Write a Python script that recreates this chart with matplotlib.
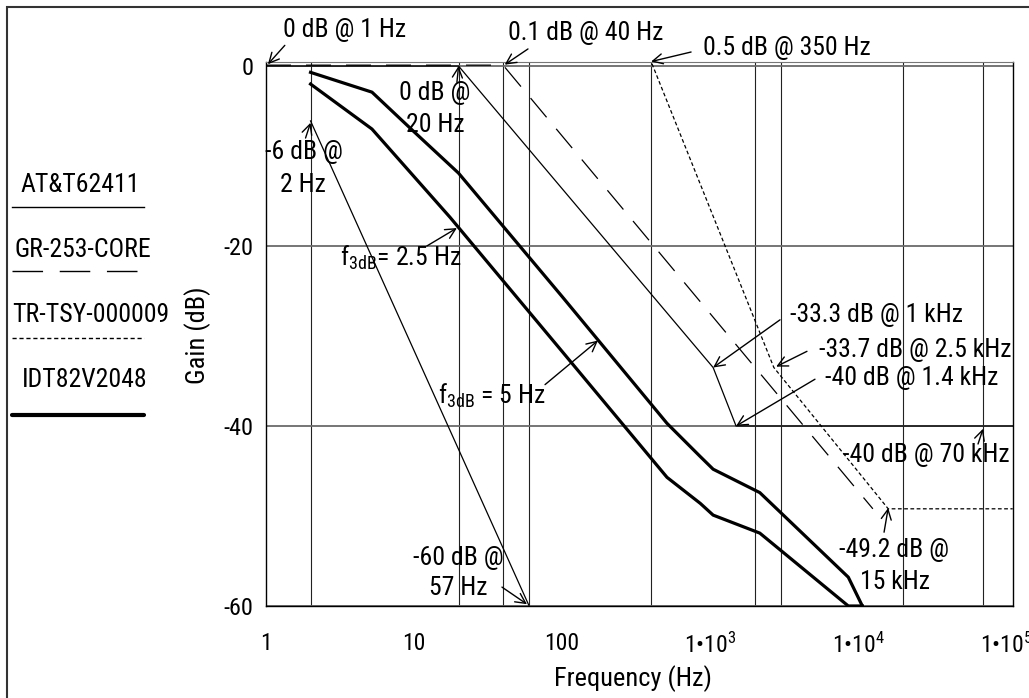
import matplotlib
matplotlib.use('Agg')
from matplotlib import pyplot as plt
from matplotlib.lines import Line2D
from matplotlib.patches import Rectangle
from matplotlib.ticker import FixedLocator, NullFormatter

FONT = 'Roboto Condensed'
plt.rcParams['font.family'] = [FONT, 'DejaVu Sans']
plt.rcParams['mathtext.fontset'] = 'custom'
plt.rcParams['mathtext.rm'] = FONT
plt.rcParams['mathtext.default'] = 'regular'
plt.rcParams['axes.unicode_minus'] = False

# AT&T62411 mask, thin solid
att_freq = [1, 20, 1050, 1500, 111000]
att_gain = [0, 0, -33.5, -40, -40]
# second AT&T line, -6 dB @ 2 Hz down to -60 dB
att2_freq = [2, 60]
att2_gain = [-6.1, -60]
# GR-253-CORE, long dashes
gr_freq = [1, 40, 12600]
gr_gain = [0.1, 0.1, -49.2]
# TR-TSY-000009, short dashes
tr_freq = [1, 400, 2700, 16000, 111000]
tr_gain = [0.5, 0.5, -33.5, -49.2, -49.2]
# IDT82V2048, f3dB = 5 Hz and 2.5 Hz
idt5_freq = [2, 5.2, 10, 20, 100, 512, 860, 1050, 2170, 8600, 10700]
idt5_gain = [-0.7, -2.9, -7.3, -11.9, -25.6, -39.7, -43.4, -44.8, -47.4, -56.8, -60]
idt25_freq = [2, 5.2, 17.5, 100, 512, 860, 1050, 2170, 8600, 10700]
idt25_gain = [-2.0, -7.0, -16.8, -31.7, -45.7, -48.6, -49.9, -51.9, -60, -60]

xticks = [1, 10, 100, 1e3, 1e4, 1e5]
xticklabels = ['1', '10', '100', '1\u202210$^{3}$', '1\u202210$^{4}$', '1\u202210$^{5}$']
yticks = [0, -20, -40, -60]
yticklabels = ['0', '-20', '-40', '-60']
grid_freqs = [2, 10, 20, 40, 60, 100, 400, 1000, 2000, 3000, 1e4, 2e4, 7e4, 1e5]

# (text, freq, gain, ha)
labels = [
    ('0 dB @ 1 Hz', 1.30, 4.0, 'left'),
    ('0.1 dB @ 40 Hz', 43.2, 3.67, 'left'),
    ('0.5 dB @ 350 Hz', 897, 2.0, 'left'),
    ('0 dB @', 13.9, -3.0, 'center'),
    ('20 Hz', 13.9, -6.6, 'center'),
    ('-6 dB @', 1.81, -9.6, 'center'),
    ('2 Hz', 1.79, -13.2, 'center'),
    ('f$_{3dB}$= 2.5 Hz', 3.16, -21.3, 'left'),
    ('f$_{3dB}$ = 5 Hz', 14.5, -36.6, 'left'),
    ('-33.3 dB @ 1 kHz', 3473, -27.7, 'left'),
    ('-33.7 dB @ 2.5 kHz', 5450, -31.6, 'left'),
    ('-40 dB @ 1.4 kHz', 5985, -34.7, 'left'),
    ('-40 dB @ 70 kHz', 7920, -43.2, 'left'),
    ('-49.2 dB @', 17500, -53.8, 'center'),
    ('15 kHz', 17700, -57.3, 'center'),
    ('-60 dB @', 19.8, -54.7, 'center'),
    ('57 Hz', 19.8, -58.0, 'center'),
]
# (head, tail)
arrows = [
    ((1.03, 0.2), (1.34, 2.3)),
    ((41, 0.15), (58.9, 1.9)),
    ((400, 0.5), (745, 1.56)),
    ((20, 0.0), (19.5, -1.8)),
    ((2, -6.3), (1.85, -8.0)),
    ((19.5, -18.0), (12.2, -20.0)),
    ((175, -30.5), (76.8, -35.4)),
    ((1050, -33.5), (2972, -28.2)),
    ((2800, -33.4), (4520, -31.7)),
    ((1500, -40), (5120, -34.8)),
    ((70000, -40.3), (64700, -42.0)),
    ((16000, -49.1), (15000, -51.8)),
    ((58, -59.8), (39.3, -57.9)),
]

W, H = 1029, 698
fig = plt.figure(figsize=(W / 100, H / 100), dpi=100)
ax = fig.add_axes([266 / W, 1 - 606 / H, (1013 - 266) / W, (606 - 62) / H])

ax.plot(att_freq, att_gain, color='black', lw=0.9)
ax.plot(att2_freq, att2_gain, color='black', lw=0.9)
ax.plot(gr_freq, gr_gain, color='black', lw=0.9, dashes=(20, 12))
ax.plot(tr_freq, tr_gain, color='black', lw=0.9, dashes=(3, 2))
ax.plot(idt5_freq, idt5_gain, color='black', lw=2.3, solid_joinstyle='round')
ax.plot(idt25_freq, idt25_gain, color='black', lw=2.3, solid_joinstyle='round')

ax.set_xscale('log')
ax.set_xlim(1, 1.115e5)
ax.set_ylim(-60, 0.45)
ax.set_xticks(xticks)
ax.set_xticklabels(xticklabels)
ax.xaxis.set_minor_locator(FixedLocator(grid_freqs))
ax.xaxis.set_minor_formatter(NullFormatter())
ax.set_yticks(yticks)
ax.set_yticklabels(yticklabels)
ax.tick_params(axis='x', which='both', length=0, pad=19, labelsize=17)
ax.tick_params(axis='y', length=0, pad=9, labelsize=17.5)
ax.grid(axis='x', which='minor', color='#222222', lw=0.8)
ax.grid(axis='y', which='major', color='#6a6a6a', lw=1.3)
ax.set_axisbelow(True)
for side in ['left', 'bottom', 'right']:
    ax.spines[side].set_linewidth(1.0)
ax.spines['top'].set_color('#777777')

ax.set_xlabel('Frequency (Hz)', fontsize=19)
ax.xaxis.set_label_coords(0.491, -0.108)
ax.set_ylabel('Gain (dB)', fontsize=19)
ax.yaxis.set_label_coords(-0.074, 0.498)

for txt, f, g, ha in labels:
    ax.text(f, g, txt, ha=ha, va='center', fontsize=18.5)
for head, tail in arrows:
    ax.annotate('', xy=head, xytext=tail, annotation_clip=False,
                arrowprops=dict(arrowstyle='->', color='black', lw=1.0,
                                mutation_scale=18, shrinkA=0, shrinkB=0))

# legend on the left
legend_items = [
    ('AT&T62411', 20, 185, 207, dict(lw=1.0)),
    ('GR-253-CORE', 14, 250, 271, dict(lw=1.0, dashes=(22, 12))),
    ('TR-TSY-000009', 12, 315, 338, dict(lw=1.0, dashes=(3, 2))),
    ('IDT82V2048', 22, 380, 415, dict(lw=3.0, solid_capstyle='round')),
]
for name, tx, ty, ly, style in legend_items:
    fig.text(tx / W, 1 - ty / H, name, ha='left', va='center', fontsize=18.5)
    fig.add_artist(Line2D([12 / W, 144 / W], [1 - ly / H, 1 - ly / H],
                          transform=fig.transFigure, color='black', **style))

fig.add_artist(Rectangle((7 / W, -0.01), 1.0, 1 - 7 / H + 0.01,
                         transform=fig.transFigure, fill=False,
                         edgecolor='#333333', lw=1.5))

fig.savefig('out.png', dpi=100)
